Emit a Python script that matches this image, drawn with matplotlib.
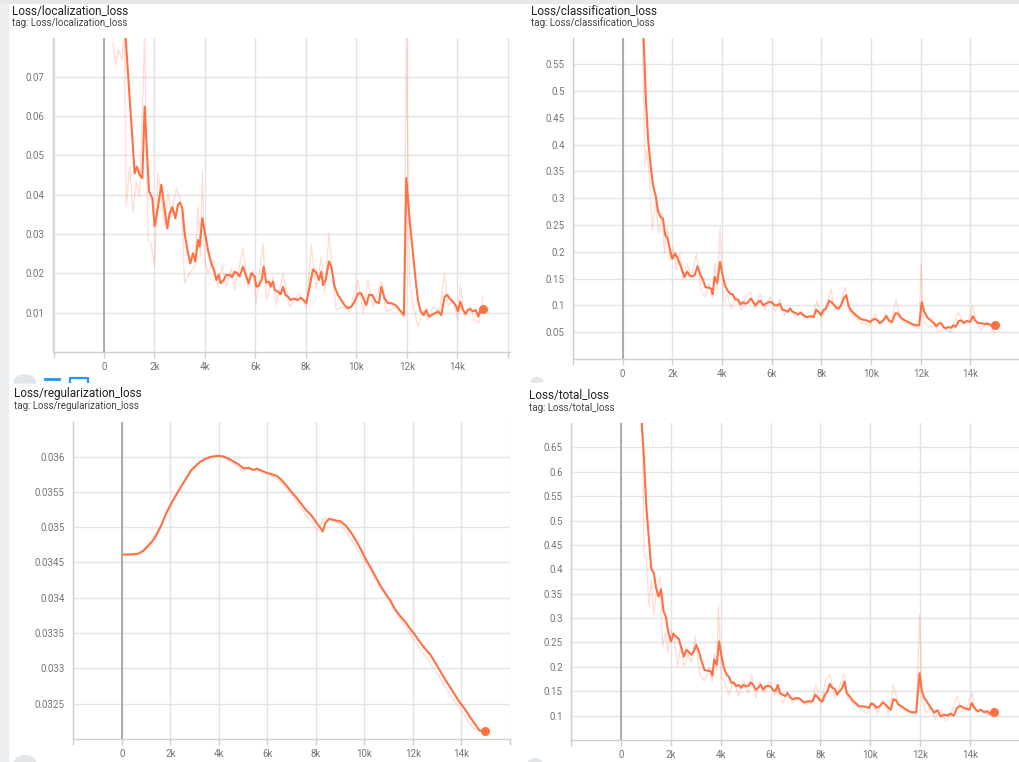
#!/usr/bin/env python3
"""TensorBoard-style loss curves (localization / classification / regularization / total)."""
import matplotlib

matplotlib.use("Agg")
import matplotlib.pyplot as plt  # noqa: E402
from matplotlib.patches import Rectangle, Wedge  # noqa: E402
from matplotlib.ticker import FuncFormatter  # noqa: E402

W, H = 1020, 762
ORANGE = "#ff7043"

# ---- Loss/localization_loss ------------------------------------------------
loc_steps = [858, 1214, 1307, 1412, 1518, 1610, 1782, 1914, 2006, 2138, 2270, 2402, 2508,
             2600, 2706, 2825, 2930, 3010, 3102, 3194, 3326, 3419, 3524, 3617, 3722, 3788,
             3894, 4026, 4118, 4250, 4356, 4448, 4541, 4620, 4739, 4844, 4976, 5069, 5174,
             5280, 5372, 5504, 5636, 5729, 5834, 5966, 6032, 6138, 6257, 6323, 6428, 6534,
             6600, 6692, 6758, 6890, 6996, 7088, 7181, 7286, 7392, 7524, 7656, 7788, 7907,
             8012, 8144, 8276, 8408, 8514, 8606, 8672, 8778, 8910, 9002, 9134, 9266, 9398,
             9530, 9662, 9794, 9926, 10058, 10190, 10322, 10388, 10494, 10626, 10758, 10890,
             10982, 11114, 11246, 11378, 11550, 11708, 11880, 11972, 12104, 12236, 12342,
             12434, 12540, 12659, 12764, 12870, 12976, 13094, 13226, 13358, 13490, 13596,
             13688, 13820, 13926, 14018, 14111, 14216, 14322, 14414, 14520, 14612, 14718,
             14824, 14903, 15008]
loc_smooth = [0.0797, 0.0454, 0.0471, 0.0450, 0.0442, 0.0624, 0.0408, 0.0391, 0.0320, 0.0369,
              0.0425, 0.0361, 0.0314, 0.0353, 0.0368, 0.0340, 0.0374, 0.0380, 0.0365, 0.0302,
              0.0251, 0.0225, 0.0251, 0.0230, 0.0285, 0.0268, 0.0340, 0.0293, 0.0259, 0.0225,
              0.0208, 0.0183, 0.0196, 0.0175, 0.0183, 0.0196, 0.0196, 0.0190, 0.0204, 0.0200,
              0.0192, 0.0217, 0.0192, 0.0175, 0.0200, 0.0192, 0.0166, 0.0168, 0.0187, 0.0217,
              0.0176, 0.0179, 0.0166, 0.0179, 0.0158, 0.0153, 0.0147, 0.0166, 0.0145, 0.0141,
              0.0132, 0.0136, 0.0132, 0.0138, 0.0132, 0.0124, 0.0166, 0.0210, 0.0202, 0.0183,
              0.0204, 0.0170, 0.0183, 0.0230, 0.0217, 0.0166, 0.0145, 0.0132, 0.0119, 0.0111,
              0.0115, 0.0128, 0.0149, 0.0149, 0.0128, 0.0119, 0.0145, 0.0145, 0.0128, 0.0124,
              0.0166, 0.0136, 0.0124, 0.0124, 0.0119, 0.0107, 0.0094, 0.0442, 0.0336, 0.0251,
              0.0183, 0.0132, 0.0103, 0.0094, 0.0107, 0.0090, 0.0094, 0.0098, 0.0103, 0.0094,
              0.0141, 0.0145, 0.0136, 0.0128, 0.0119, 0.0103, 0.0128, 0.0107, 0.0097, 0.0107,
              0.0109, 0.0103, 0.0107, 0.0090, 0.0107, 0.0109]
loc_raw_steps = [356, 462, 581, 700, 805, 884, 1016, 1148, 1280, 1412, 1610, 1742, 1874, 2006,
                 2138, 2270, 2402, 2534, 2666, 2864, 3062, 3194, 3392, 3590, 3722, 3815, 3894,
                 3986, 4118, 4316, 4514, 4686, 4844, 5042, 5174, 5504, 5702, 5900, 6032, 6296,
                 6428, 6692, 6824, 7088, 7352, 7748, 8012, 8210, 8408, 8606, 8738, 8910, 9068,
                 9200, 9464, 9728, 10058, 10256, 10454, 10652, 10982, 11180, 11576, 11880,
                 11972, 12104, 12262, 12434, 12632, 12830, 13028, 13292, 13490, 13622, 13820,
                 14018, 14111, 14282, 14480, 14678, 14850, 15008]
loc_raw = [0.0785, 0.0730, 0.0768, 0.0742, 0.0802, 0.0370, 0.0471, 0.0353, 0.0433, 0.0395,
           0.0810, 0.0285, 0.0272, 0.0217, 0.0454, 0.0386, 0.0319, 0.0408, 0.0344, 0.0416,
           0.0378, 0.0175, 0.0200, 0.0217, 0.0370, 0.0242, 0.0458, 0.0234, 0.0200, 0.0234,
           0.0166, 0.0221, 0.0166, 0.0213, 0.0158, 0.0264, 0.0166, 0.0208, 0.0124, 0.0276,
           0.0132, 0.0191, 0.0120, 0.0200, 0.0115, 0.0149, 0.0111, 0.0272, 0.0158, 0.0242,
           0.0149, 0.0302, 0.0183, 0.0107, 0.0115, 0.0103, 0.0183, 0.0098, 0.0183, 0.0115,
           0.0179, 0.0103, 0.0115, 0.0086, 0.0819, 0.0175, 0.0115, 0.0064, 0.0107, 0.0081,
           0.0115, 0.0103, 0.0200, 0.0115, 0.0132, 0.0081, 0.0170, 0.0090, 0.0115, 0.0081,
           0.0073, 0.0141]

# ---- Loss/classification_loss ----------------------------------------------
cls_steps = [844, 935, 1026, 1130, 1221, 1325, 1416, 1520, 1624, 1715, 1806, 1910, 2000, 2104,
             2195, 2299, 2390, 2494, 2598, 2689, 2793, 2897, 3014, 3118, 3235, 3338, 3468,
             3572, 3624, 3702, 3806, 3923, 4014, 4118, 4222, 4326, 4429, 4533, 4637, 4741,
             4845, 4949, 5053, 5157, 5261, 5352, 5443, 5547, 5651, 5755, 5872, 6001, 6131,
             6235, 6326, 6430, 6534, 6651, 6742, 6846, 6950, 7054, 7171, 7274, 7391, 7560,
             7690, 7794, 7885, 7989, 8080, 8184, 8314, 8405, 8495, 8599, 8703, 8794, 8898,
             9002, 9093, 9184, 9314, 9444, 9574, 9704, 9833, 9963, 10067, 10158, 10262, 10353,
             10483, 10613, 10717, 10847, 10977, 11081, 11198, 11328, 11458, 11627, 11783,
             11939, 12043, 12147, 12277, 12407, 12537, 12628, 12719, 12823, 12914, 13018,
             13109, 13213, 13317, 13408, 13538, 13642, 13733, 13863, 13993, 14097, 14188,
             14318, 14448, 14577, 14707, 14837, 14993]
cls_smooth = [0.599, 0.483, 0.409, 0.359, 0.324, 0.306, 0.278, 0.265, 0.262, 0.231, 0.225,
              0.203, 0.187, 0.197, 0.190, 0.178, 0.166, 0.153, 0.163, 0.156, 0.154, 0.156,
              0.173, 0.159, 0.147, 0.134, 0.133, 0.131, 0.121, 0.153, 0.142, 0.181, 0.159,
              0.138, 0.128, 0.122, 0.121, 0.111, 0.111, 0.102, 0.106, 0.103, 0.106, 0.113,
              0.106, 0.100, 0.106, 0.109, 0.100, 0.103, 0.106, 0.106, 0.100, 0.100, 0.103,
              0.092, 0.091, 0.088, 0.094, 0.088, 0.086, 0.083, 0.086, 0.082, 0.078, 0.080,
              0.078, 0.092, 0.088, 0.082, 0.091, 0.094, 0.109, 0.106, 0.102, 0.096, 0.094,
              0.100, 0.113, 0.119, 0.100, 0.091, 0.085, 0.080, 0.075, 0.073, 0.072, 0.069,
              0.073, 0.075, 0.072, 0.067, 0.071, 0.080, 0.072, 0.069, 0.085, 0.085, 0.077,
              0.073, 0.070, 0.066, 0.063, 0.063, 0.106, 0.088, 0.077, 0.072, 0.067, 0.061,
              0.066, 0.067, 0.060, 0.057, 0.060, 0.058, 0.063, 0.060, 0.071, 0.072, 0.067,
              0.071, 0.069, 0.080, 0.072, 0.067, 0.067, 0.065, 0.066, 0.063, 0.063]
cls_raw_steps = [805, 896, 974, 1065, 1195, 1325, 1455, 1585, 1689, 1806, 1910, 2039, 2169,
                 2299, 2429, 2598, 2754, 2975, 3144, 3312, 3494, 3624, 3702, 3806, 3923, 4053,
                 4222, 4378, 4572, 4767, 4962, 5157, 5313, 5547, 5742, 5936, 6131, 6326, 6521,
                 6716, 6950, 7171, 7430, 7690, 7820, 8015, 8210, 8379, 8534, 8729, 8963, 9119,
                 9379, 9639, 9963, 10158, 10353, 10613, 10808, 11003, 11263, 11653, 11939,
                 12017, 12108, 12303, 12563, 12693, 12953, 13213, 13512, 13733, 13928, 14097,
                 14253, 14448, 14643, 14838, 14968]
cls_raw = [0.600, 0.359, 0.390, 0.346, 0.240, 0.296, 0.234, 0.271, 0.197, 0.247, 0.184, 0.209,
           0.166, 0.197, 0.147, 0.178, 0.153, 0.197, 0.128, 0.116, 0.141, 0.113, 0.178, 0.128,
           0.247, 0.106, 0.122, 0.094, 0.116, 0.091, 0.116, 0.125, 0.094, 0.122, 0.091, 0.116,
           0.088, 0.113, 0.081, 0.097, 0.078, 0.091, 0.075, 0.080, 0.110, 0.075, 0.100, 0.131,
           0.091, 0.097, 0.134, 0.088, 0.078, 0.067, 0.063, 0.085, 0.063, 0.085, 0.063, 0.110,
           0.069, 0.063, 0.057, 0.178, 0.072, 0.060, 0.063, 0.050, 0.057, 0.050, 0.088, 0.066,
           0.072, 0.100, 0.066, 0.053, 0.069, 0.060, 0.047]

# ---- Loss/regularization_loss ----------------------------------------------
reg_steps = [82, 326, 666, 870, 1074, 1278, 1414, 1618, 1822, 2026, 2230, 2434, 2638, 2842,
             3046, 3250, 3454, 3726, 3998, 4202, 4406, 4610, 4814, 5018, 5222, 5427, 5562,
             5766, 5970, 6174, 6378, 6582, 6786, 6990, 7194, 7398, 7602, 7806, 8010, 8187,
             8282, 8391, 8554, 8758, 9030, 9234, 9438, 9642, 9846, 10050, 10254, 10458, 10662,
             10866, 11070, 11274, 11478, 11682, 11886, 12090, 12294, 12498, 12702, 12906,
             13110, 13314, 13518, 13722, 13926, 14130, 14334, 14538, 14742, 14974]
reg_smooth = [0.034613, 0.034613, 0.034623, 0.03466, 0.03473, 0.03481, 0.03488, 0.03502,
              0.03519, 0.03533, 0.03545, 0.03557, 0.03568, 0.03580, 0.03587, 0.03593, 0.03597,
              0.03600, 0.03601, 0.03600, 0.03597, 0.03593, 0.03589, 0.03583, 0.03584, 0.03581,
              0.03583, 0.03580, 0.03577, 0.03575, 0.03573, 0.03567, 0.03559, 0.03550, 0.03542,
              0.03533, 0.03524, 0.03517, 0.03507, 0.03499, 0.03494, 0.03506, 0.03512, 0.03510,
              0.03508, 0.03502, 0.03493, 0.03482, 0.03469, 0.03455, 0.03443, 0.03430, 0.03417,
              0.03406, 0.03396, 0.03383, 0.03374, 0.03366, 0.03356, 0.03347, 0.03337, 0.03328,
              0.03320, 0.03309, 0.03297, 0.03285, 0.03274, 0.03263, 0.03252, 0.03243, 0.03232,
              0.03222, 0.03212, 0.03211]
reg_raw_steps = [100, 700, 1200, 1700, 2200, 2700, 3200, 3700, 4100, 4600, 5000, 5100, 5500,
                 6000, 6500, 7000, 7500, 8100, 8300, 8500, 9000, 9500, 10000, 10500, 11000,
                 11500, 12000, 12500, 13000, 13500, 14000, 14500, 15000]
reg_raw = [0.03461, 0.03463, 0.03479, 0.03508, 0.03545, 0.03571, 0.03592, 0.03601, 0.03601,
           0.03591, 0.03578, 0.03585, 0.03581, 0.03576, 0.03566, 0.03546, 0.03521, 0.03495,
           0.03513, 0.03512, 0.03505, 0.03480, 0.03452, 0.03423, 0.03397, 0.03368, 0.03343,
           0.03318, 0.03292, 0.03264, 0.03240, 0.03215, 0.03209]

# ---- Loss/total_loss -------------------------------------------------------
tot_steps = [837, 928, 1019, 1124, 1216, 1320, 1412, 1516, 1608, 1712, 1804, 1908, 2013, 2104,
             2209, 2326, 2431, 2523, 2627, 2732, 2823, 2928, 3019, 3124, 3215, 3346, 3477,
             3607, 3673, 3738, 3843, 3934, 4039, 4130, 4235, 4326, 4431, 4522, 4627, 4718,
             4823, 4914, 5019, 5110, 5215, 5306, 5411, 5502, 5606, 5698, 5803, 5907, 6012,
             6090, 6195, 6287, 6378, 6483, 6587, 6679, 6783, 6901, 7005, 7110, 7214, 7332,
             7463, 7594, 7685, 7790, 7881, 7986, 8077, 8182, 8286, 8378, 8469, 8574, 8665,
             8770, 8874, 8966, 9057, 9162, 9293, 9423, 9554, 9685, 9816, 9946, 10038, 10142,
             10247, 10378, 10495, 10600, 10704, 10822, 10926, 11031, 11122, 11253, 11384,
             11515, 11645, 11841, 11972, 12063, 12168, 12298, 12429, 12560, 12691, 12821,
             12952, 13083, 13214, 13344, 13475, 13606, 13737, 13867, 13972, 14063, 14168,
             14299, 14430, 14560, 14691, 14782, 14952]
tot_smooth = [0.699, 0.624, 0.529, 0.460, 0.402, 0.392, 0.361, 0.344, 0.359, 0.314, 0.302,
              0.269, 0.252, 0.268, 0.262, 0.257, 0.238, 0.221, 0.235, 0.230, 0.225, 0.232,
              0.245, 0.232, 0.215, 0.194, 0.192, 0.191, 0.182, 0.215, 0.204, 0.252, 0.221,
              0.198, 0.184, 0.180, 0.167, 0.168, 0.160, 0.163, 0.157, 0.163, 0.160, 0.161,
              0.168, 0.163, 0.153, 0.157, 0.163, 0.153, 0.160, 0.161, 0.159, 0.153, 0.150,
              0.163, 0.146, 0.143, 0.140, 0.146, 0.138, 0.133, 0.136, 0.136, 0.133, 0.127,
              0.129, 0.129, 0.129, 0.143, 0.138, 0.131, 0.129, 0.143, 0.150, 0.165, 0.157,
              0.155, 0.143, 0.150, 0.157, 0.170, 0.146, 0.140, 0.131, 0.125, 0.119, 0.119,
              0.118, 0.116, 0.125, 0.123, 0.116, 0.119, 0.127, 0.123, 0.117, 0.112, 0.134,
              0.131, 0.123, 0.119, 0.114, 0.110, 0.107, 0.107, 0.187, 0.150, 0.136, 0.126,
              0.116, 0.106, 0.111, 0.098, 0.102, 0.100, 0.104, 0.100, 0.116, 0.120, 0.116,
              0.114, 0.112, 0.126, 0.116, 0.109, 0.112, 0.107, 0.109, 0.104, 0.107]
tot_raw_steps = [863, 928, 1019, 1124, 1229, 1320, 1451, 1581, 1673, 1778, 1882, 2013, 2144,
                 2274, 2405, 2536, 2692, 2823, 2980, 3150, 3346, 3542, 3660, 3738, 3843, 3908,
                 4026, 4157, 4326, 4522, 4718, 4914, 5110, 5241, 5411, 5568, 5764, 5960, 6156,
                 6326, 6483, 6679, 6875, 7136, 7398, 7659, 7816, 8025, 8208, 8378, 8574, 8770,
                 8940, 9097, 9358, 9620, 9881, 10077, 10273, 10508, 10730, 10926, 11161, 11449,
                 11841, 11972, 12077, 12233, 12429, 12599, 12821, 13018, 13214, 13475, 13671,
                 13867, 14063, 14259, 14456, 14717, 14913]
tot_raw = [0.700, 0.426, 0.426, 0.324, 0.378, 0.307, 0.365, 0.385, 0.242, 0.269, 0.228, 0.276,
           0.256, 0.201, 0.242, 0.201, 0.228, 0.208, 0.262, 0.187, 0.170, 0.198, 0.170, 0.228,
           0.194, 0.327, 0.174, 0.170, 0.143, 0.170, 0.140, 0.174, 0.146, 0.184, 0.136, 0.170,
           0.146, 0.170, 0.140, 0.163, 0.123, 0.150, 0.126, 0.136, 0.123, 0.126, 0.163, 0.123,
           0.174, 0.184, 0.136, 0.160, 0.187, 0.136, 0.123, 0.112, 0.105, 0.127, 0.105, 0.133,
           0.102, 0.163, 0.116, 0.109, 0.102, 0.307, 0.133, 0.105, 0.116, 0.092, 0.112, 0.088,
           0.102, 0.140, 0.109, 0.116, 0.146, 0.105, 0.112, 0.102, 0.098]

X_TICKS = list(range(-2000, 16001, 2000))


def step_label(v, _pos):
    if v < 0 or v > 14000:
        return ""
    return "0" if v == 0 else f"{int(v / 1000)}k"


def panel(fig, box, xlim, ylim, yticks, steps, smooth, raw_steps, raw, title, tpos):
    left, top, right, bottom = box
    ax = fig.add_axes([left / W, 1 - bottom / H, (right - left) / W, (bottom - top) / H])
    ax.plot(raw_steps, raw, color=ORANGE, alpha=0.22, lw=1.0, zorder=2)
    ax.plot(steps, smooth, color=ORANGE, lw=1.5, zorder=3)
    ax.plot(steps[-1], smooth[-1], "o", color=ORANGE, ms=5.5, zorder=4, clip_on=False)
    ax.axvline(0, color="#a0a0a0", lw=1.2, zorder=1)
    ax.set_xlim(*xlim)
    ax.set_ylim(*ylim)
    ax.set_xticks(X_TICKS)
    ax.xaxis.set_major_formatter(FuncFormatter(step_label))
    ax.set_yticks(yticks)
    ax.set_yticklabels([f"{v:g}" for v in yticks])
    ax.grid(True, color="#e3e3e3", lw=1.0, zorder=0)
    ax.set_axisbelow(True)
    for side in ("top", "right"):
        ax.spines[side].set_visible(False)
    for side in ("left", "bottom"):
        ax.spines[side].set_color("#cfcfcf")
        ax.spines[side].set_linewidth(1.0)
    ax.tick_params(axis="x", colors="#cfcfcf", length=4, width=1, pad=3,
                   labelcolor="#757575", labelsize=7)
    ax.tick_params(axis="y", length=0, pad=6, labelcolor="#757575", labelsize=7)
    for lab in ax.get_xticklabels() + ax.get_yticklabels():
        lab.set_fontfamily("Roboto")
    fig.text(tpos[0] / W, 1 - tpos[1] / H, title, fontsize=8.5, color="#212121",
             family="Roboto", va="center", ha="left")
    fig.text(tpos[0] / W, 1 - (tpos[1] + 12) / H, "tag: " + title, fontsize=7,
             color="#424242", family="Roboto", va="center", ha="left")
    return ax


def main():
    fig = plt.figure(figsize=(W / 100, H / 100), dpi=100)
    fig.patch.set_facecolor("white")

    # screenshot chrome: grey strip on the left and a thin band on top
    fig.patches.append(Rectangle((0, 0), 8 / W, 1, transform=fig.transFigure,
                                 color="#eceff1", zorder=0))
    fig.patches.append(Rectangle((0, 1 - 3 / H), 1, 3 / H, transform=fig.transFigure,
                                 color="#e6e8ea", zorder=0))
    # bits of the toolbar icons that got cut off
    for cx, cy, r in [(25, 383, 11), (25, 764, 11), (537, 382, 6), (535, 764, 7)]:
        fig.patches.append(Wedge((cx / W, 1 - cy / H), r / W, 0, 180,
                                 transform=fig.transFigure, color="#e3e6e9", zorder=1))
    fig.add_artist(plt.Line2D([45 / W, 59 / W], [1 - 379 / H, 1 - 379 / H],
                              color="#2196f3", lw=2))
    fig.add_artist(plt.Line2D([70 / W, 70 / W, 88 / W, 88 / W],
                              [1 - 382 / H, 1 - 378 / H, 1 - 378 / H, 1 - 382 / H],
                              color="#2196f3", lw=1.6))

    panel(fig, (53, 38, 510, 352), (-2020, 16080), (0, 0.0798),
          [0.01, 0.02, 0.03, 0.04, 0.05, 0.06, 0.07],
          loc_steps, loc_smooth, loc_raw_steps, loc_raw, "Loss/localization_loss", (12, 11))
    panel(fig, (573, 38, 1020, 359), (-2000, 15400), (0, 0.599),
          [0.05, 0.1, 0.15, 0.2, 0.25, 0.3, 0.35, 0.4, 0.45, 0.5, 0.55],
          cls_steps, cls_smooth, cls_raw_steps, cls_raw, "Loss/classification_loss", (531, 11))
    panel(fig, (73, 422, 510, 739), (-2010, 15840), (0.032, 0.03649),
          [0.0325, 0.033, 0.0335, 0.034, 0.0345, 0.035, 0.0355, 0.036],
          reg_steps, reg_smooth, reg_raw_steps, reg_raw, "Loss/regularization_loss", (14, 394))
    panel(fig, (571, 423, 1020, 740), (-2000, 15630), (0.05, 0.70),
          [0.1, 0.15, 0.2, 0.25, 0.3, 0.35, 0.4, 0.45, 0.5, 0.55, 0.6, 0.65],
          tot_steps, tot_smooth, tot_raw_steps, tot_raw, "Loss/total_loss", (529, 396))

    fig.savefig("out.png", dpi=100, facecolor=fig.get_facecolor())
    print("wrote out.png")


if __name__ == "__main__":
    main()
